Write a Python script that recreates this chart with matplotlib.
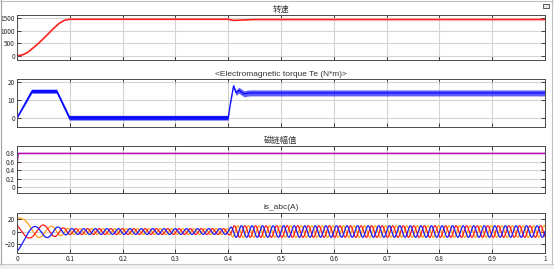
import numpy as np
import matplotlib.pyplot as plt
from matplotlib.patches import Rectangle
from matplotlib.lines import Line2D

plt.rcParams['font.family'] = ['Noto Sans CJK SC', 'DejaVu Sans']

# speed (rpm)
speed_t = [0, 0.01, 0.02, 0.03, 0.04, 0.05, 0.06, 0.07, 0.08, 0.09, 0.1,
           0.4, 0.405, 0.41, 0.42, 0.45, 1.0]
speed_v = [0, 30, 130, 300, 480, 680, 890, 1100, 1290, 1410, 1450,
           1450, 1425, 1405, 1415, 1440, 1440]

# electromagnetic torque (N*m): centre line and ripple half-width
torque_t = [0, 0.028, 0.075, 0.099, 0.4, 0.404, 0.41, 0.415, 0.42, 0.43, 0.44, 1.0]
torque_v = [0, 15, 15, 0, 0, 8, 18, 14, 15.5, 13.5, 14, 14]
torque_ripple = [0.5, 1.1, 1.1, 1.3, 1.3, 1.2, 1.0, 1.4, 1.7, 1.7, 1.7, 1.7]

# flux magnitude (Wb)
flux_t = [0, 0.001, 0.002, 0.003, 1.0]
flux_v = [0, 0.6, 0.75, 0.8, 0.8]
flux_ripple = 0.012

# stator currents: amplitude, electrical frequency and decaying dc offsets
amp_t = [0, 0.03, 0.05, 0.07, 0.09, 0.1, 0.4, 0.41, 1.0]
amp_v = [12, 11, 10, 8, 5.5, 4.5, 4.5, 9, 9]
freq_t = [0, 0.02, 0.04, 0.06, 0.08, 0.1, 0.4, 0.41, 1.0]
freq_hz = [12, 16, 19, 22, 30, 45, 48, 50, 50]
dc_t = [0, 0.01, 0.02, 0.04, 0.06]
dc_decay = [1, 0.55, 0.3, 0.08, 0]
dc_a, dc_b, dc_c = -19, 4, 15

t = np.linspace(0, 1, 20001)
theta = np.pi + 2 * np.pi * np.cumsum(np.interp(t, freq_t, freq_hz)) * (t[1] - t[0])
amp = np.interp(t, amp_t, amp_v)
dec = np.interp(t, dc_t, dc_decay)
ia = amp * np.cos(theta) + dc_a * dec
ib = amp * np.cos(theta - 2 * np.pi / 3) + dc_b * dec
ic = amp * np.cos(theta + 2 * np.pi / 3) + dc_c * dec

fig = plt.figure(figsize=(5.54, 2.69), dpi=100)
fig.patch.set_facecolor('white')

W, H = 554, 269
boxes = [(15, 60), (79.3, 126.5), (146, 192.7), (212.7, 253.3)]
axes = []
for top, bot in boxes:
    ax = fig.add_axes([17 / W, 1 - bot / H, (545 - 17) / W, (bot - top) / H])
    axes.append(ax)

for ax in axes:
    ax.set_xlim(0, 1)
    ax.set_xticks(np.arange(0, 1.01, 0.1))
    ax.grid(True, color='#d4d4d4', lw=0.8)
    ax.set_axisbelow(True)
    ax.tick_params(direction='in', top=True, right=True, length=3, width=0.6,
                   labelsize=4.6, colors='#262626', pad=1.5)
    for s in ax.spines.values():
        s.set_color('#4a4a4a')
        s.set_linewidth(0.7)
    ax.set_xticklabels([])

title_kw = dict(fontsize=6, color='#333333', pad=2.5)

ax = axes[0]
ax.plot(speed_t, speed_v, color='#ff2020', lw=1.2)
ax.set_ylim(-170, 1620)
ax.set_yticks([0, 500, 1000, 1500])
ax.set_title('转速', **title_kw)

ax = axes[1]
lo = np.array(torque_v) - np.array(torque_ripple)
hi = np.array(torque_v) + np.array(torque_ripple)
ax.fill_between(torque_t[:5], lo[:5], hi[:5], color='#1a1aff', lw=0)
ax.fill_between(torque_t[4:], lo[4:], hi[4:], color='#1a1aff', alpha=0.7, lw=0)
ax.plot(torque_t, torque_v, color='#0000ff', lw=0.8)
ax.set_ylim(-5, 21.7)
ax.set_yticks([0, 10, 20])
ax.set_title('<Electromagnetic torque Te (N*m)>', family='Liberation Sans', **title_kw)

ax = axes[2]
ax.fill_between(flux_t, np.array(flux_v) - flux_ripple, np.array(flux_v) + flux_ripple,
                color='#c020c0', lw=0)
ax.plot(flux_t, flux_v, color='#b000b0', lw=0.8)
ax.set_ylim(-0.13, 0.97)
ax.set_yticks([0, 0.2, 0.4, 0.6, 0.8])
ax.set_yticklabels(['0', '0.2', '0.4', '0.6', '0.8'])
ax.set_title('磁链幅值', **title_kw)

ax = axes[3]
ax.plot(t, ic, color='#ff9f1a', lw=0.9)
ax.plot(t, ib, color='#ff1a1a', lw=0.9)
ax.plot(t, ia, color='#1a1aff', lw=0.9)
ax.set_ylim(-34, 29.4)
ax.set_yticks([-20, 0, 20])
ax.set_xticklabels(['0', '0.1', '0.2', '0.3', '0.4', '0.5', '0.6', '0.7', '0.8', '0.9', '1'])
ax.set_title('is_abc(A)', family='Liberation Sans', **title_kw)

# scope window frame
fig.add_artist(Rectangle((0, 0), 1, 5 / H, transform=fig.transFigure,
                         facecolor='#f0f0f0', edgecolor='none'))
fig.add_artist(Line2D([0, 1], [5 / H, 5 / H], transform=fig.transFigure, color='#c8c8c8', lw=0.8))
fig.add_artist(Line2D([1 / W, 1 / W], [5 / H, 1], transform=fig.transFigure, color='#a0a0a0', lw=0.8))
fig.add_artist(Line2D([0, 1], [1 - 0.5 / H, 1 - 0.5 / H], transform=fig.transFigure, color='#c0c0c0', lw=0.8))
fig.add_artist(Line2D([551.5 / W, 551.5 / W], [5 / H, 1], transform=fig.transFigure, color='#c0c0c0', lw=0.8))
fig.add_artist(Rectangle((543 / W, 1 - 8 / H), 6 / W, 4 / H, transform=fig.transFigure,
                         facecolor='#e8e8e8', edgecolor='#404040', lw=0.6))

fig.savefig('out.png', dpi=100)
